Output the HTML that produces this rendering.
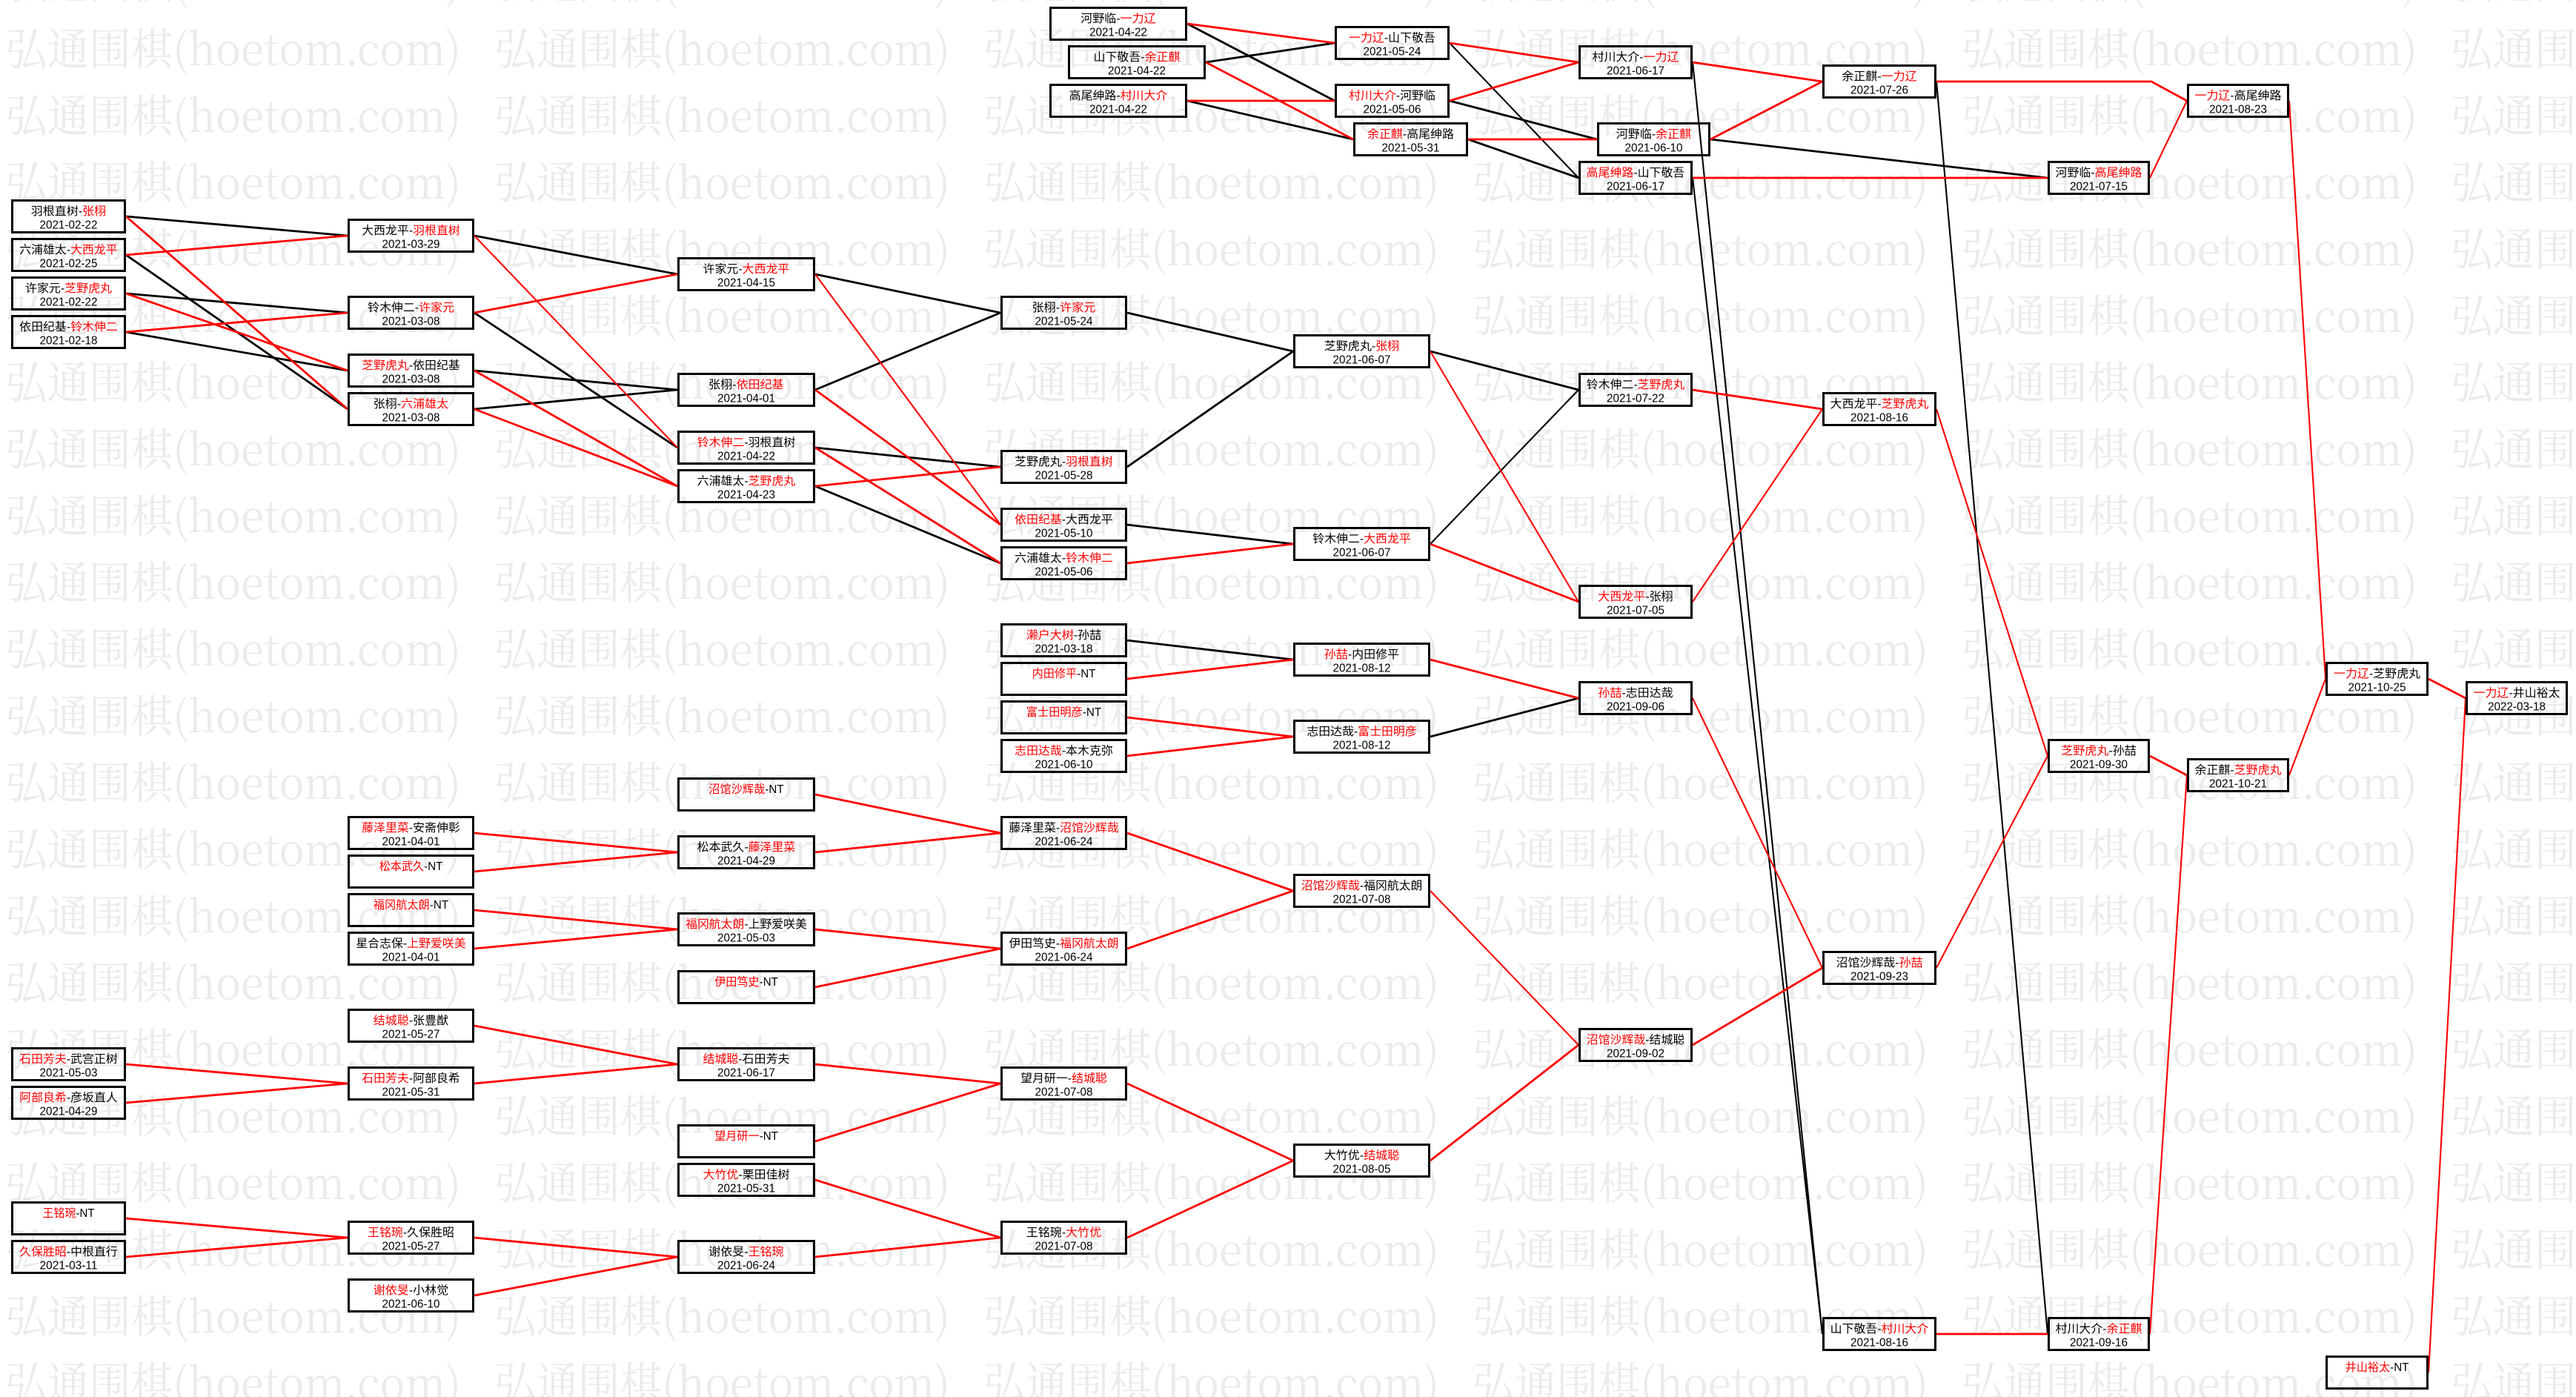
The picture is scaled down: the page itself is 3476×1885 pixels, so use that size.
<!DOCTYPE html>
<html><head><meta charset="utf-8"><style>
html,body{margin:0;padding:0;background:#fff;}
svg{display:block;}
.t{font-family:"Liberation Sans","Noto Sans CJK SC",sans-serif;font-size:15.6px;fill:#000;}
.r{fill:#f00;}
.wm{font-family:"Noto Serif CJK SC","Noto Sans CJK SC",serif;font-size:60px;fill:#ebebeb;}
</style></head><body>
<svg xmlns="http://www.w3.org/2000/svg" width="3476" height="1885" viewBox="0 0 3476 1885">
<defs>
<pattern id="wm" x="7" y="35" width="660" height="90" patternUnits="userSpaceOnUse">
<text class="wm" x="0" y="53" textLength="615" lengthAdjust="spacingAndGlyphs">弘通围棋(hoetom.com)</text>
</pattern>
</defs>
<rect x="0" y="0" width="3476" height="1885" fill="#fff"/>
<rect x="0" y="0" width="3476" height="1885" fill="url(#wm)"/>

<g fill="none" stroke="#000" stroke-width="2.8">
<line x1="170" y1="292" x2="469" y2="318"/>
<line x1="170" y1="344" x2="469" y2="552"/>
<line x1="170" y1="396" x2="469" y2="422"/>
<line x1="170" y1="448" x2="469" y2="500"/>
<line x1="640" y1="318" x2="914" y2="370"/>
<line x1="640" y1="422" x2="914" y2="604"/>
<line x1="640" y1="500" x2="914" y2="526"/>
<line x1="640" y1="552" x2="914" y2="526"/>
<line x1="1100" y1="370" x2="1350" y2="422"/>
<line x1="1100" y1="526" x2="1350" y2="422"/>
<line x1="1100" y1="604" x2="1350" y2="630"/>
<line x1="1100" y1="656" x2="1350" y2="760"/>
<line x1="1521" y1="422" x2="1745" y2="474"/>
<line x1="1521" y1="630" x2="1745" y2="474"/>
<line x1="1521" y1="708" x2="1745" y2="734"/>
<line x1="1521" y1="864" x2="1745" y2="890"/>
<line x1="1602" y1="32" x2="1801" y2="136"/>
<line x1="1627" y1="84" x2="1801" y2="58"/>
<line x1="1602" y1="136" x2="1826" y2="188"/>
<line x1="1956" y1="136" x2="2155" y2="188"/>
<line x1="1981" y1="188" x2="2130" y2="240"/>
<line x1="1930" y1="474" x2="2130" y2="526"/>
<line x1="1930" y1="994" x2="2130" y2="942"/>
<line x1="2308" y1="188" x2="2763" y2="240"/>
</g>
<g fill="none" stroke="#000" stroke-width="2.1">
<line x1="1956" y1="58" x2="2130" y2="240"/>
<line x1="1930" y1="734" x2="2130" y2="526"/>
<line x1="2284" y1="84" x2="2459" y2="1800"/>
<line x1="2284" y1="240" x2="2459" y2="1800"/>
<line x1="2613" y1="110" x2="2763" y2="1800"/>
</g>
<g fill="none" stroke="#f00" stroke-width="2.8">
<line x1="170" y1="292" x2="469" y2="552"/>
<line x1="170" y1="344" x2="469" y2="318"/>
<line x1="170" y1="396" x2="469" y2="500"/>
<line x1="170" y1="448" x2="469" y2="422"/>
<line x1="170" y1="1436" x2="469" y2="1462"/>
<line x1="170" y1="1488" x2="469" y2="1462"/>
<line x1="170" y1="1644" x2="469" y2="1670"/>
<line x1="170" y1="1696" x2="469" y2="1670"/>
<line x1="640" y1="422" x2="914" y2="370"/>
<line x1="640" y1="500" x2="914" y2="656"/>
<line x1="640" y1="552" x2="914" y2="656"/>
<line x1="640" y1="1124" x2="914" y2="1150"/>
<line x1="640" y1="1176" x2="914" y2="1150"/>
<line x1="640" y1="1228" x2="914" y2="1254"/>
<line x1="640" y1="1280" x2="914" y2="1254"/>
<line x1="640" y1="1384" x2="914" y2="1436"/>
<line x1="640" y1="1462" x2="914" y2="1436"/>
<line x1="640" y1="1670" x2="914" y2="1696"/>
<line x1="640" y1="1748" x2="914" y2="1696"/>
<line x1="1100" y1="526" x2="1350" y2="708"/>
<line x1="1100" y1="604" x2="1350" y2="760"/>
<line x1="1100" y1="656" x2="1350" y2="630"/>
<line x1="1100" y1="1072" x2="1350" y2="1124"/>
<line x1="1100" y1="1150" x2="1350" y2="1124"/>
<line x1="1100" y1="1254" x2="1350" y2="1280"/>
<line x1="1100" y1="1332" x2="1350" y2="1280"/>
<line x1="1100" y1="1436" x2="1350" y2="1462"/>
<line x1="1100" y1="1540" x2="1350" y2="1462"/>
<line x1="1100" y1="1592" x2="1350" y2="1670"/>
<line x1="1100" y1="1696" x2="1350" y2="1670"/>
<line x1="1521" y1="760" x2="1745" y2="734"/>
<line x1="1521" y1="916" x2="1745" y2="890"/>
<line x1="1521" y1="968" x2="1745" y2="994"/>
<line x1="1521" y1="1020" x2="1745" y2="994"/>
<line x1="1521" y1="1124" x2="1745" y2="1202"/>
<line x1="1521" y1="1280" x2="1745" y2="1202"/>
<line x1="1521" y1="1462" x2="1745" y2="1566"/>
<line x1="1521" y1="1670" x2="1745" y2="1566"/>
<line x1="1602" y1="32" x2="1801" y2="58"/>
<line x1="1627" y1="84" x2="1826" y2="188"/>
<line x1="1602" y1="136" x2="1801" y2="136"/>
<line x1="1956" y1="58" x2="2130" y2="84"/>
<line x1="1956" y1="136" x2="2130" y2="84"/>
<line x1="1981" y1="188" x2="2155" y2="188"/>
<line x1="1930" y1="734" x2="2130" y2="812"/>
<line x1="1930" y1="890" x2="2130" y2="942"/>
<line x1="1930" y1="1566" x2="2130" y2="1410"/>
<line x1="2284" y1="84" x2="2459" y2="110"/>
<line x1="2308" y1="188" x2="2459" y2="110"/>
<line x1="2284" y1="240" x2="2763" y2="240"/>
<line x1="2284" y1="526" x2="2459" y2="552"/>
<line x1="2284" y1="1410" x2="2459" y2="1306"/>
<polyline points="2613,110 2903,110 2951,136"/>
<line x1="2613" y1="1800" x2="2763" y2="1800"/>
<line x1="2901" y1="1020" x2="2951" y2="1046"/>
<line x1="3277" y1="916" x2="3327" y2="942"/>
</g>
<g fill="none" stroke="#f00" stroke-width="2.1">
<line x1="640" y1="318" x2="914" y2="604"/>
<line x1="1100" y1="370" x2="1350" y2="708"/>
<line x1="1930" y1="474" x2="2130" y2="812"/>
<line x1="1930" y1="1202" x2="2130" y2="1410"/>
<line x1="2284" y1="812" x2="2459" y2="552"/>
<line x1="2284" y1="942" x2="2459" y2="1306"/>
<line x1="2613" y1="552" x2="2763" y2="1020"/>
<line x1="2613" y1="1306" x2="2763" y2="1020"/>
<line x1="2901" y1="240" x2="2951" y2="136"/>
<line x1="2901" y1="1800" x2="2951" y2="1046"/>
<line x1="3089" y1="136" x2="3138" y2="916"/>
<line x1="3089" y1="1046" x2="3138" y2="916"/>
<line x1="3277" y1="1852" x2="3327" y2="942"/>
</g>

<g fill="none" stroke="#000" stroke-width="3">
<rect x="16.5" y="270.5" width="152" height="43"/>
<rect x="16.5" y="322.5" width="152" height="43"/>
<rect x="16.5" y="374.5" width="152" height="43"/>
<rect x="16.5" y="426.5" width="152" height="43"/>
<rect x="16.5" y="1414.5" width="152" height="43"/>
<rect x="16.5" y="1466.5" width="152" height="43"/>
<rect x="16.5" y="1622.5" width="152" height="43"/>
<rect x="16.5" y="1674.5" width="152" height="43"/>

<rect x="470.5" y="296.5" width="168" height="43"/>
<rect x="470.5" y="400.5" width="168" height="43"/>
<rect x="470.5" y="478.5" width="168" height="43"/>
<rect x="470.5" y="530.5" width="168" height="43"/>
<rect x="470.5" y="1102.5" width="168" height="43"/>
<rect x="470.5" y="1154.5" width="168" height="43"/>
<rect x="470.5" y="1206.5" width="168" height="43"/>
<rect x="470.5" y="1258.5" width="168" height="43"/>
<rect x="470.5" y="1362.5" width="168" height="43"/>
<rect x="470.5" y="1440.5" width="168" height="43"/>
<rect x="470.5" y="1648.5" width="168" height="43"/>
<rect x="470.5" y="1726.5" width="168" height="43"/>

<rect x="915.5" y="348.5" width="183" height="43"/>
<rect x="915.5" y="504.5" width="183" height="43"/>
<rect x="915.5" y="582.5" width="183" height="43"/>
<rect x="915.5" y="634.5" width="183" height="43"/>
<rect x="915.5" y="1050.5" width="183" height="43"/>
<rect x="915.5" y="1128.5" width="183" height="43"/>
<rect x="915.5" y="1232.5" width="183" height="43"/>
<rect x="915.5" y="1310.5" width="183" height="43"/>
<rect x="915.5" y="1414.5" width="183" height="43"/>
<rect x="915.5" y="1518.5" width="183" height="43"/>
<rect x="915.5" y="1570.5" width="183" height="43"/>
<rect x="915.5" y="1674.5" width="183" height="43"/>

<rect x="1351.5" y="400.5" width="168" height="43"/>
<rect x="1351.5" y="608.5" width="168" height="43"/>
<rect x="1351.5" y="686.5" width="168" height="43"/>
<rect x="1351.5" y="738.5" width="168" height="43"/>
<rect x="1351.5" y="842.5" width="168" height="43"/>
<rect x="1351.5" y="894.5" width="168" height="43"/>
<rect x="1351.5" y="946.5" width="168" height="43"/>
<rect x="1351.5" y="998.5" width="168" height="43"/>
<rect x="1351.5" y="1102.5" width="168" height="43"/>
<rect x="1351.5" y="1258.5" width="168" height="43"/>
<rect x="1351.5" y="1440.5" width="168" height="43"/>
<rect x="1351.5" y="1648.5" width="168" height="43"/>

<rect x="1417.5" y="10.5" width="183" height="43"/>
<rect x="1442.5" y="62.5" width="183" height="43"/>
<rect x="1417.5" y="114.5" width="183" height="43"/>

<rect x="1746.5" y="452.5" width="182" height="43"/>
<rect x="1746.5" y="712.5" width="182" height="43"/>
<rect x="1746.5" y="868.5" width="182" height="43"/>
<rect x="1746.5" y="972.5" width="182" height="43"/>
<rect x="1746.5" y="1180.5" width="182" height="43"/>
<rect x="1746.5" y="1544.5" width="182" height="43"/>

<rect x="1802.5" y="36.5" width="152" height="43"/>
<rect x="1802.5" y="114.5" width="152" height="43"/>
<rect x="1827.5" y="166.5" width="152" height="43"/>

<rect x="2131.5" y="62.5" width="151" height="43"/>
<rect x="2156.5" y="166.5" width="150" height="43"/>
<rect x="2131.5" y="218.5" width="151" height="43"/>
<rect x="2131.5" y="504.5" width="151" height="43"/>
<rect x="2131.5" y="790.5" width="151" height="43"/>
<rect x="2131.5" y="920.5" width="151" height="43"/>
<rect x="2131.5" y="1388.5" width="151" height="43"/>

<rect x="2460.5" y="88.5" width="151" height="43"/>
<rect x="2460.5" y="530.5" width="151" height="43"/>
<rect x="2460.5" y="1284.5" width="151" height="43"/>
<rect x="2460.5" y="1778.5" width="151" height="43"/>

<rect x="2764.5" y="218.5" width="135" height="43"/>
<rect x="2764.5" y="998.5" width="135" height="43"/>
<rect x="2764.5" y="1778.5" width="135" height="43"/>

<rect x="2952.5" y="114.5" width="135" height="43"/>
<rect x="2952.5" y="1024.5" width="135" height="43"/>

<rect x="3139.5" y="894.5" width="136" height="43"/>
<rect x="3139.5" y="1830.5" width="136" height="43"/>

<rect x="3328.5" y="920.5" width="135" height="43"/>
</g>

<g class="t" text-anchor="middle">
<text x="92.5" y="290" textLength="101.4" lengthAdjust="spacingAndGlyphs">羽根直树-<tspan class="r">张栩</tspan></text>
<text x="92.5" y="308.5" textLength="78" lengthAdjust="spacingAndGlyphs">2021-02-22</text>
<text x="92.5" y="342" textLength="132.6" lengthAdjust="spacingAndGlyphs">六浦雄太-<tspan class="r">大西龙平</tspan></text>
<text x="92.5" y="360.5" textLength="78" lengthAdjust="spacingAndGlyphs">2021-02-25</text>
<text x="92.5" y="394" textLength="117" lengthAdjust="spacingAndGlyphs">许家元-<tspan class="r">芝野虎丸</tspan></text>
<text x="92.5" y="412.5" textLength="78" lengthAdjust="spacingAndGlyphs">2021-02-22</text>
<text x="92.5" y="446" textLength="132.6" lengthAdjust="spacingAndGlyphs">依田纪基-<tspan class="r">铃木伸二</tspan></text>
<text x="92.5" y="464.5" textLength="78" lengthAdjust="spacingAndGlyphs">2021-02-18</text>
<text x="92.5" y="1434" textLength="132.6" lengthAdjust="spacingAndGlyphs"><tspan class="r">石田芳夫</tspan>-武宫正树</text>
<text x="92.5" y="1452.5" textLength="78" lengthAdjust="spacingAndGlyphs">2021-05-03</text>
<text x="92.5" y="1486" textLength="132.6" lengthAdjust="spacingAndGlyphs"><tspan class="r">阿部良希</tspan>-彦坂直人</text>
<text x="92.5" y="1504.5" textLength="78" lengthAdjust="spacingAndGlyphs">2021-04-29</text>
<text x="92.5" y="1642" textLength="70.2" lengthAdjust="spacingAndGlyphs"><tspan class="r">王铭琬</tspan>-NT</text>
<text x="92.5" y="1694" textLength="132.6" lengthAdjust="spacingAndGlyphs"><tspan class="r">久保胜昭</tspan>-中根直行</text>
<text x="92.5" y="1712.5" textLength="78" lengthAdjust="spacingAndGlyphs">2021-03-11</text>

<text x="554.5" y="316" textLength="132.6" lengthAdjust="spacingAndGlyphs">大西龙平-<tspan class="r">羽根直树</tspan></text>
<text x="554.5" y="334.5" textLength="78" lengthAdjust="spacingAndGlyphs">2021-03-29</text>
<text x="554.5" y="420" textLength="117" lengthAdjust="spacingAndGlyphs">铃木伸二-<tspan class="r">许家元</tspan></text>
<text x="554.5" y="438.5" textLength="78" lengthAdjust="spacingAndGlyphs">2021-03-08</text>
<text x="554.5" y="498" textLength="132.6" lengthAdjust="spacingAndGlyphs"><tspan class="r">芝野虎丸</tspan>-依田纪基</text>
<text x="554.5" y="516.5" textLength="78" lengthAdjust="spacingAndGlyphs">2021-03-08</text>
<text x="554.5" y="550" textLength="101.4" lengthAdjust="spacingAndGlyphs">张栩-<tspan class="r">六浦雄太</tspan></text>
<text x="554.5" y="568.5" textLength="78" lengthAdjust="spacingAndGlyphs">2021-03-08</text>
<text x="554.5" y="1122" textLength="132.6" lengthAdjust="spacingAndGlyphs"><tspan class="r">藤泽里菜</tspan>-安斋伸彰</text>
<text x="554.5" y="1140.5" textLength="78" lengthAdjust="spacingAndGlyphs">2021-04-01</text>
<text x="554.5" y="1174" textLength="85.8" lengthAdjust="spacingAndGlyphs"><tspan class="r">松本武久</tspan>-NT</text>
<text x="554.5" y="1226" textLength="101.4" lengthAdjust="spacingAndGlyphs"><tspan class="r">福冈航太朗</tspan>-NT</text>
<text x="554.5" y="1278" textLength="148.2" lengthAdjust="spacingAndGlyphs">星合志保-<tspan class="r">上野爱咲美</tspan></text>
<text x="554.5" y="1296.5" textLength="78" lengthAdjust="spacingAndGlyphs">2021-04-01</text>
<text x="554.5" y="1382" textLength="101.4" lengthAdjust="spacingAndGlyphs"><tspan class="r">结城聪</tspan>-张豊猷</text>
<text x="554.5" y="1400.5" textLength="78" lengthAdjust="spacingAndGlyphs">2021-05-27</text>
<text x="554.5" y="1460" textLength="132.6" lengthAdjust="spacingAndGlyphs"><tspan class="r">石田芳夫</tspan>-阿部良希</text>
<text x="554.5" y="1478.5" textLength="78" lengthAdjust="spacingAndGlyphs">2021-05-31</text>
<text x="554.5" y="1668" textLength="117" lengthAdjust="spacingAndGlyphs"><tspan class="r">王铭琬</tspan>-久保胜昭</text>
<text x="554.5" y="1686.5" textLength="78" lengthAdjust="spacingAndGlyphs">2021-05-27</text>
<text x="554.5" y="1746" textLength="101.4" lengthAdjust="spacingAndGlyphs"><tspan class="r">谢依旻</tspan>-小林觉</text>
<text x="554.5" y="1764.5" textLength="78" lengthAdjust="spacingAndGlyphs">2021-06-10</text>

<text x="1007" y="368" textLength="117" lengthAdjust="spacingAndGlyphs">许家元-<tspan class="r">大西龙平</tspan></text>
<text x="1007" y="386.5" textLength="78" lengthAdjust="spacingAndGlyphs">2021-04-15</text>
<text x="1007" y="524" textLength="101.4" lengthAdjust="spacingAndGlyphs">张栩-<tspan class="r">依田纪基</tspan></text>
<text x="1007" y="542.5" textLength="78" lengthAdjust="spacingAndGlyphs">2021-04-01</text>
<text x="1007" y="602" textLength="132.6" lengthAdjust="spacingAndGlyphs"><tspan class="r">铃木伸二</tspan>-羽根直树</text>
<text x="1007" y="620.5" textLength="78" lengthAdjust="spacingAndGlyphs">2021-04-22</text>
<text x="1007" y="654" textLength="132.6" lengthAdjust="spacingAndGlyphs">六浦雄太-<tspan class="r">芝野虎丸</tspan></text>
<text x="1007" y="672.5" textLength="78" lengthAdjust="spacingAndGlyphs">2021-04-23</text>
<text x="1007" y="1070" textLength="101.4" lengthAdjust="spacingAndGlyphs"><tspan class="r">沼馆沙辉哉</tspan>-NT</text>
<text x="1007" y="1148" textLength="132.6" lengthAdjust="spacingAndGlyphs">松本武久-<tspan class="r">藤泽里菜</tspan></text>
<text x="1007" y="1166.5" textLength="78" lengthAdjust="spacingAndGlyphs">2021-04-29</text>
<text x="1007" y="1252" textLength="163.8" lengthAdjust="spacingAndGlyphs"><tspan class="r">福冈航太朗</tspan>-上野爱咲美</text>
<text x="1007" y="1270.5" textLength="78" lengthAdjust="spacingAndGlyphs">2021-05-03</text>
<text x="1007" y="1330" textLength="85.8" lengthAdjust="spacingAndGlyphs"><tspan class="r">伊田笃史</tspan>-NT</text>
<text x="1007" y="1434" textLength="117" lengthAdjust="spacingAndGlyphs"><tspan class="r">结城聪</tspan>-石田芳夫</text>
<text x="1007" y="1452.5" textLength="78" lengthAdjust="spacingAndGlyphs">2021-06-17</text>
<text x="1007" y="1538" textLength="85.8" lengthAdjust="spacingAndGlyphs"><tspan class="r">望月研一</tspan>-NT</text>
<text x="1007" y="1590" textLength="117" lengthAdjust="spacingAndGlyphs"><tspan class="r">大竹优</tspan>-栗田佳树</text>
<text x="1007" y="1608.5" textLength="78" lengthAdjust="spacingAndGlyphs">2021-05-31</text>
<text x="1007" y="1694" textLength="101.4" lengthAdjust="spacingAndGlyphs">谢依旻-<tspan class="r">王铭琬</tspan></text>
<text x="1007" y="1712.5" textLength="78" lengthAdjust="spacingAndGlyphs">2021-06-24</text>

<text x="1435.5" y="420" textLength="85.8" lengthAdjust="spacingAndGlyphs">张栩-<tspan class="r">许家元</tspan></text>
<text x="1435.5" y="438.5" textLength="78" lengthAdjust="spacingAndGlyphs">2021-05-24</text>
<text x="1435.5" y="628" textLength="132.6" lengthAdjust="spacingAndGlyphs">芝野虎丸-<tspan class="r">羽根直树</tspan></text>
<text x="1435.5" y="646.5" textLength="78" lengthAdjust="spacingAndGlyphs">2021-05-28</text>
<text x="1435.5" y="706" textLength="132.6" lengthAdjust="spacingAndGlyphs"><tspan class="r">依田纪基</tspan>-大西龙平</text>
<text x="1435.5" y="724.5" textLength="78" lengthAdjust="spacingAndGlyphs">2021-05-10</text>
<text x="1435.5" y="758" textLength="132.6" lengthAdjust="spacingAndGlyphs">六浦雄太-<tspan class="r">铃木伸二</tspan></text>
<text x="1435.5" y="776.5" textLength="78" lengthAdjust="spacingAndGlyphs">2021-05-06</text>
<text x="1435.5" y="862" textLength="101.4" lengthAdjust="spacingAndGlyphs"><tspan class="r">濑户大树</tspan>-孙喆</text>
<text x="1435.5" y="880.5" textLength="78" lengthAdjust="spacingAndGlyphs">2021-03-18</text>
<text x="1435.5" y="914" textLength="85.8" lengthAdjust="spacingAndGlyphs"><tspan class="r">内田修平</tspan>-NT</text>
<text x="1435.5" y="966" textLength="101.4" lengthAdjust="spacingAndGlyphs"><tspan class="r">富士田明彦</tspan>-NT</text>
<text x="1435.5" y="1018" textLength="132.6" lengthAdjust="spacingAndGlyphs"><tspan class="r">志田达哉</tspan>-本木克弥</text>
<text x="1435.5" y="1036.5" textLength="78" lengthAdjust="spacingAndGlyphs">2021-06-10</text>
<text x="1435.5" y="1122" textLength="148.2" lengthAdjust="spacingAndGlyphs">藤泽里菜-<tspan class="r">沼馆沙辉哉</tspan></text>
<text x="1435.5" y="1140.5" textLength="78" lengthAdjust="spacingAndGlyphs">2021-06-24</text>
<text x="1435.5" y="1278" textLength="148.2" lengthAdjust="spacingAndGlyphs">伊田笃史-<tspan class="r">福冈航太朗</tspan></text>
<text x="1435.5" y="1296.5" textLength="78" lengthAdjust="spacingAndGlyphs">2021-06-24</text>
<text x="1435.5" y="1460" textLength="117" lengthAdjust="spacingAndGlyphs">望月研一-<tspan class="r">结城聪</tspan></text>
<text x="1435.5" y="1478.5" textLength="78" lengthAdjust="spacingAndGlyphs">2021-07-08</text>
<text x="1435.5" y="1668" textLength="101.4" lengthAdjust="spacingAndGlyphs">王铭琬-<tspan class="r">大竹优</tspan></text>
<text x="1435.5" y="1686.5" textLength="78" lengthAdjust="spacingAndGlyphs">2021-07-08</text>

<text x="1509" y="30" textLength="101.4" lengthAdjust="spacingAndGlyphs">河野临-<tspan class="r">一力辽</tspan></text>
<text x="1509" y="48.5" textLength="78" lengthAdjust="spacingAndGlyphs">2021-04-22</text>
<text x="1534" y="82" textLength="117" lengthAdjust="spacingAndGlyphs">山下敬吾-<tspan class="r">余正麒</tspan></text>
<text x="1534" y="100.5" textLength="78" lengthAdjust="spacingAndGlyphs">2021-04-22</text>
<text x="1509" y="134" textLength="132.6" lengthAdjust="spacingAndGlyphs">高尾绅路-<tspan class="r">村川大介</tspan></text>
<text x="1509" y="152.5" textLength="78" lengthAdjust="spacingAndGlyphs">2021-04-22</text>

<text x="1837.5" y="472" textLength="101.4" lengthAdjust="spacingAndGlyphs">芝野虎丸-<tspan class="r">张栩</tspan></text>
<text x="1837.5" y="490.5" textLength="78" lengthAdjust="spacingAndGlyphs">2021-06-07</text>
<text x="1837.5" y="732" textLength="132.6" lengthAdjust="spacingAndGlyphs">铃木伸二-<tspan class="r">大西龙平</tspan></text>
<text x="1837.5" y="750.5" textLength="78" lengthAdjust="spacingAndGlyphs">2021-06-07</text>
<text x="1837.5" y="888" textLength="101.4" lengthAdjust="spacingAndGlyphs"><tspan class="r">孙喆</tspan>-内田修平</text>
<text x="1837.5" y="906.5" textLength="78" lengthAdjust="spacingAndGlyphs">2021-08-12</text>
<text x="1837.5" y="992" textLength="148.2" lengthAdjust="spacingAndGlyphs">志田达哉-<tspan class="r">富士田明彦</tspan></text>
<text x="1837.5" y="1010.5" textLength="78" lengthAdjust="spacingAndGlyphs">2021-08-12</text>
<text x="1837.5" y="1200" textLength="163.8" lengthAdjust="spacingAndGlyphs"><tspan class="r">沼馆沙辉哉</tspan>-福冈航太朗</text>
<text x="1837.5" y="1218.5" textLength="78" lengthAdjust="spacingAndGlyphs">2021-07-08</text>
<text x="1837.5" y="1564" textLength="101.4" lengthAdjust="spacingAndGlyphs">大竹优-<tspan class="r">结城聪</tspan></text>
<text x="1837.5" y="1582.5" textLength="78" lengthAdjust="spacingAndGlyphs">2021-08-05</text>

<text x="1878.5" y="56" textLength="117" lengthAdjust="spacingAndGlyphs"><tspan class="r">一力辽</tspan>-山下敬吾</text>
<text x="1878.5" y="74.5" textLength="78" lengthAdjust="spacingAndGlyphs">2021-05-24</text>
<text x="1878.5" y="134" textLength="117" lengthAdjust="spacingAndGlyphs"><tspan class="r">村川大介</tspan>-河野临</text>
<text x="1878.5" y="152.5" textLength="78" lengthAdjust="spacingAndGlyphs">2021-05-06</text>
<text x="1903.5" y="186" textLength="117" lengthAdjust="spacingAndGlyphs"><tspan class="r">余正麒</tspan>-高尾绅路</text>
<text x="1903.5" y="204.5" textLength="78" lengthAdjust="spacingAndGlyphs">2021-05-31</text>

<text x="2207" y="82" textLength="117" lengthAdjust="spacingAndGlyphs">村川大介-<tspan class="r">一力辽</tspan></text>
<text x="2207" y="100.5" textLength="78" lengthAdjust="spacingAndGlyphs">2021-06-17</text>
<text x="2231.5" y="186" textLength="101.4" lengthAdjust="spacingAndGlyphs">河野临-<tspan class="r">余正麒</tspan></text>
<text x="2231.5" y="204.5" textLength="78" lengthAdjust="spacingAndGlyphs">2021-06-10</text>
<text x="2207" y="238" textLength="132.6" lengthAdjust="spacingAndGlyphs"><tspan class="r">高尾绅路</tspan>-山下敬吾</text>
<text x="2207" y="256.5" textLength="78" lengthAdjust="spacingAndGlyphs">2021-06-17</text>
<text x="2207" y="524" textLength="132.6" lengthAdjust="spacingAndGlyphs">铃木伸二-<tspan class="r">芝野虎丸</tspan></text>
<text x="2207" y="542.5" textLength="78" lengthAdjust="spacingAndGlyphs">2021-07-22</text>
<text x="2207" y="810" textLength="101.4" lengthAdjust="spacingAndGlyphs"><tspan class="r">大西龙平</tspan>-张栩</text>
<text x="2207" y="828.5" textLength="78" lengthAdjust="spacingAndGlyphs">2021-07-05</text>
<text x="2207" y="940" textLength="101.4" lengthAdjust="spacingAndGlyphs"><tspan class="r">孙喆</tspan>-志田达哉</text>
<text x="2207" y="958.5" textLength="78" lengthAdjust="spacingAndGlyphs">2021-09-06</text>
<text x="2207" y="1408" textLength="132.6" lengthAdjust="spacingAndGlyphs"><tspan class="r">沼馆沙辉哉</tspan>-结城聪</text>
<text x="2207" y="1426.5" textLength="78" lengthAdjust="spacingAndGlyphs">2021-09-02</text>

<text x="2536" y="108" textLength="101.4" lengthAdjust="spacingAndGlyphs">余正麒-<tspan class="r">一力辽</tspan></text>
<text x="2536" y="126.5" textLength="78" lengthAdjust="spacingAndGlyphs">2021-07-26</text>
<text x="2536" y="550" textLength="132.6" lengthAdjust="spacingAndGlyphs">大西龙平-<tspan class="r">芝野虎丸</tspan></text>
<text x="2536" y="568.5" textLength="78" lengthAdjust="spacingAndGlyphs">2021-08-16</text>
<text x="2536" y="1304" textLength="117" lengthAdjust="spacingAndGlyphs">沼馆沙辉哉-<tspan class="r">孙喆</tspan></text>
<text x="2536" y="1322.5" textLength="78" lengthAdjust="spacingAndGlyphs">2021-09-23</text>
<text x="2536" y="1798" textLength="132.6" lengthAdjust="spacingAndGlyphs">山下敬吾-<tspan class="r">村川大介</tspan></text>
<text x="2536" y="1816.5" textLength="78" lengthAdjust="spacingAndGlyphs">2021-08-16</text>

<text x="2832" y="238" textLength="117" lengthAdjust="spacingAndGlyphs">河野临-<tspan class="r">高尾绅路</tspan></text>
<text x="2832" y="256.5" textLength="78" lengthAdjust="spacingAndGlyphs">2021-07-15</text>
<text x="2832" y="1018" textLength="101.4" lengthAdjust="spacingAndGlyphs"><tspan class="r">芝野虎丸</tspan>-孙喆</text>
<text x="2832" y="1036.5" textLength="78" lengthAdjust="spacingAndGlyphs">2021-09-30</text>
<text x="2832" y="1798" textLength="117" lengthAdjust="spacingAndGlyphs">村川大介-<tspan class="r">余正麒</tspan></text>
<text x="2832" y="1816.5" textLength="78" lengthAdjust="spacingAndGlyphs">2021-09-16</text>

<text x="3020" y="134" textLength="117" lengthAdjust="spacingAndGlyphs"><tspan class="r">一力辽</tspan>-高尾绅路</text>
<text x="3020" y="152.5" textLength="78" lengthAdjust="spacingAndGlyphs">2021-08-23</text>
<text x="3020" y="1044" textLength="117" lengthAdjust="spacingAndGlyphs">余正麒-<tspan class="r">芝野虎丸</tspan></text>
<text x="3020" y="1062.5" textLength="78" lengthAdjust="spacingAndGlyphs">2021-10-21</text>

<text x="3207.5" y="914" textLength="117" lengthAdjust="spacingAndGlyphs"><tspan class="r">一力辽</tspan>-芝野虎丸</text>
<text x="3207.5" y="932.5" textLength="78" lengthAdjust="spacingAndGlyphs">2021-10-25</text>
<text x="3207.5" y="1850" textLength="85.8" lengthAdjust="spacingAndGlyphs"><tspan class="r">井山裕太</tspan>-NT</text>

<text x="3396" y="940" textLength="117" lengthAdjust="spacingAndGlyphs"><tspan class="r">一力辽</tspan>-井山裕太</text>
<text x="3396" y="958.5" textLength="78" lengthAdjust="spacingAndGlyphs">2022-03-18</text>
</g>
</svg>
</body></html>
